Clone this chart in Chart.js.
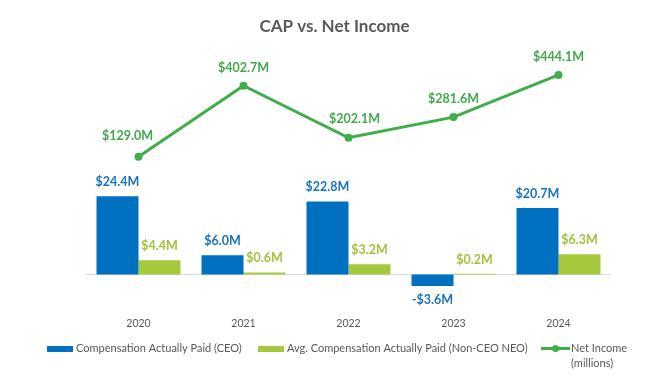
<!DOCTYPE html>
<html><head><meta charset="utf-8">
<script src="https://cdn.jsdelivr.net/npm/chart.js@4.4.1/dist/chart.umd.min.js"></script>
<style>html,body{margin:0;padding:0;background:#fff;overflow:hidden}#wrap{position:relative;width:669px;height:383px}</style>
</head><body><div id="wrap"><canvas id="c" width="669" height="383"></canvas></div>
<script>
// ---- data ----
const years = ['2020', '2021', '2022', '2023', '2024'];
const capCEO = [24.4, 6.0, 22.8, -3.6, 20.7];
const capNEO = [4.4, 0.6, 3.2, 0.2, 6.3];
const netIncome = [129.0, 402.7, 202.1, 281.6, 444.1];
const nameCEO = 'Compensation Actually Paid (CEO)';
const nameNEO = 'Avg. Compensation Actually Paid (Non-CEO NEO)';
const nameNI = ['Net Income', '(millions)'];
const chartTitle = 'CAP vs. Net Income';

// ---- styles ----
const BLUE = '#0070C0', LGREEN = '#A5C93D', GREEN = '#3FAE49', GRAY = '#595959';
const FONT = 'Lato, "Open Sans", sans-serif';

function fmt(v) { return (v < 0 ? '-$' : '$') + Math.abs(v).toFixed(1) + 'M'; }

const labelPlugin = {
  id: 'valueLabels',
  afterDatasetsDraw(chart, args, opts) {
    const ctx = chart.ctx;
    ctx.save();
    ctx.textAlign = 'center';
    ctx.textBaseline = 'middle';
    ctx.font = 'bold 12.5px ' + FONT;
    chart.data.datasets.forEach((ds, i) => {
      const meta = chart.getDatasetMeta(i);
      meta.data.forEach((el, j) => {
        const v = ds.data[j];
        ctx.fillStyle = ds.labelColor;
        let x = el.x, y;
        if (ds.type === 'line') { x += opts.lineDx[j]; y = el.y + opts.lineDy[j]; }
        else { y = v >= 0 ? el.y - 14 : el.y + 14; }
        ctx.fillText(fmt(v), x, y);
      });
    });
    ctx.restore();
  }
};

const decoPlugin = {
  id: 'deco',
  beforeDatasetsDraw(chart) {
    const ctx = chart.ctx, a = chart.chartArea;
    const y0 = Math.round(chart.scales.y.getPixelForValue(0)) + 0.5;
    ctx.save();
    ctx.strokeStyle = '#D9D9D9'; ctx.lineWidth = 1;
    ctx.beginPath(); ctx.moveTo(a.left, y0); ctx.lineTo(a.right, y0); ctx.stroke();
    ctx.restore();
  },
  afterDraw(chart) {
    const ctx = chart.ctx;
    ctx.save();
    // title
    ctx.fillStyle = GRAY; ctx.textAlign = 'center'; ctx.textBaseline = 'middle';
    ctx.font = 'bold 17px ' + FONT;
    ctx.fillText(chartTitle, 334.5, 27);
    // legend
    ctx.font = '11px ' + FONT; ctx.textAlign = 'left';
    const ly = 348.5;
    ctx.fillStyle = BLUE; ctx.fillRect(47, 346, 26, 6);
    ctx.fillStyle = GRAY; ctx.fillText(nameCEO, 76, ly);
    ctx.fillStyle = LGREEN; ctx.fillRect(258, 346, 26, 6);
    ctx.fillStyle = GRAY; ctx.fillText(nameNEO, 287, ly);
    ctx.strokeStyle = GREEN; ctx.lineWidth = 3;
    ctx.beginPath(); ctx.moveTo(541, ly); ctx.lineTo(570, ly); ctx.stroke();
    ctx.fillStyle = GREEN; ctx.beginPath(); ctx.arc(555.5, ly, 3.5, 0, Math.PI * 2); ctx.fill();
    ctx.fillStyle = GRAY;
    ctx.fillText(nameNI[0], 571, ly);
    ctx.fillText(nameNI[1], 571, ly + 15);
    ctx.restore();
  }
};

new Chart(document.getElementById('c'), {
  type: 'bar',
  data: {
    labels: years,
    datasets: [
      { type: 'line', label: nameNI.join(' '), data: netIncome, yAxisID: 'y1', order: 0,
        borderColor: GREEN, backgroundColor: GREEN, borderWidth: 3, pointRadius: 4,
        pointBackgroundColor: GREEN, pointBorderWidth: 0, tension: 0, labelColor: '#44A84C' },
      { label: nameCEO, data: capCEO, yAxisID: 'y', order: 1, backgroundColor: BLUE,
        categoryPercentage: 0.8, barPercentage: 1.0, labelColor: '#1A73BD' },
      { label: nameNEO, data: capNEO, yAxisID: 'y', order: 1, backgroundColor: LGREEN,
        categoryPercentage: 0.8, barPercentage: 1.0, labelColor: '#A3C23E' }
    ]
  },
  options: {
    responsive: false, animation: false, devicePixelRatio: 1,
    layout: { padding: { left: 86, right: 58, top: 40, bottom: 48.3 } },
    plugins: {
      legend: { display: false }, title: { display: false }, tooltip: { enabled: false },
      valueLabels: { lineDx: [-11, 0, 6, 0, 0], lineDy: [-21, -18, -19, -18, -18] }
    },
    scales: {
      x: { grid: { display: false }, border: { display: false },
           ticks: { color: GRAY, font: { family: FONT, size: 10.5 }, padding: 5 } },
      y: { display: false, min: -9.28, max: 73.2 },
      y1: { display: false, position: 'right', min: -439.3, max: 578.9 }
    }
  },
  plugins: [labelPlugin, decoPlugin]
});
</script>
</body></html>
